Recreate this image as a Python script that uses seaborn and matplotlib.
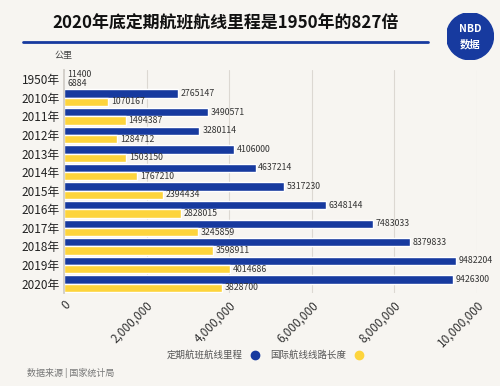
import pandas as pd
import matplotlib.pyplot as plt
import seaborn as sns
from matplotlib.lines import Line2D
from matplotlib.patches import Circle

years = ["1950年", "2010年", "2011年", "2012年", "2013年", "2014年", "2015年",
         "2016年", "2017年", "2018年", "2019年", "2020年"]
scheduled = [11400, 2765147, 3490571, 3280114, 4106000, 4637214, 5317230,
             6348144, 7483033, 8379833, 9482204, 9426300]
international = [6884, 1070167, 1494387, 1284712, 1503150, 1767210, 2394434,
                 2828015, 3245859, 3598911, 4014686, 3828700]
series_names = ["定期航班航线里程", "国际航线线路长度"]
xticks = [0, 2000000, 4000000, 6000000, 8000000, 10000000]

blue = "#173a9f"
yellow = "#fdd43c"
bg = "#f7f5f1"

sns.set_theme(style="white")
plt.rcParams['font.family'] = ['Noto Sans CJK SC', 'DejaVu Sans']

df = pd.DataFrame({"year": years * 2,
                   "value": scheduled + international,
                   "series": [series_names[0]] * len(years) + [series_names[1]] * len(years)})

fig = plt.figure(figsize=(5, 3.86), dpi=100, facecolor=bg)
ax = fig.add_axes([0.128, 0.241, 0.826, 0.578], facecolor=bg)

sns.barplot(data=df, x="value", y="year", hue="series", orient="h",
            palette=[blue, yellow], saturation=1, width=0.9, ax=ax, legend=False)

for c in ax.containers:
    ax.bar_label(c, labels=[f"{int(v)}" for v in c.datavalues], padding=2,
                 fontsize=6.3, color="#333333")

ax.set_xlim(0, 10000000)
ax.set_xticks(xticks)
ax.set_xticklabels([f"{t:,}" for t in xticks], rotation=45, ha="right",
                   rotation_mode="anchor", fontsize=8.5, color="#333333")
ax.tick_params(axis="x", pad=4, length=0)
ax.tick_params(axis="y", labelsize=8.5, length=0, pad=3, colors="#222222")
ax.set_xlabel("")
ax.set_ylabel("")
ax.xaxis.grid(True, color="#dcd8d2", linewidth=0.8)
ax.set_axisbelow(True)
for s in ["top", "right", "bottom"]:
    ax.spines[s].set_visible(False)
ax.spines["left"].set_color("#cfcbc5")

# title and header
fig.text(0.104, 0.94, "2020年底定期航班航线里程是1950年的827倍", fontsize=12.2,
         fontweight="bold", color="#111111", va="center")
fig.add_artist(Line2D([0.046, 0.856], [0.89, 0.89], color=blue, linewidth=2))
fig.text(0.11, 0.857, "公里", fontsize=6.5, color="#444444", va="center")

# logo
lax = fig.add_axes([0.893, 0.845, 0.094, 0.122])
lax.set_aspect("equal")
lax.axis("off")
lax.add_patch(Circle((0.5, 0.5), 0.5, color=blue))
lax.text(0.5, 0.66, "NBD", color="white", fontsize=7.5, fontweight="bold", ha="center", va="center")
lax.text(0.5, 0.33, "数据", color="white", fontsize=7.5, fontweight="bold", ha="center", va="center")
lax.set_xlim(0, 1)
lax.set_ylim(0, 1)

# legend
handles = [Line2D([], [], marker="o", linestyle="", markersize=6, color=blue),
           Line2D([], [], marker="o", linestyle="", markersize=6, color=yellow)]
fig.legend(handles, series_names, loc="center", bbox_to_anchor=(0.535, 0.08),
           ncol=2, markerfirst=False, frameon=False, fontsize=6.8,
           handletextpad=0.3, columnspacing=0.6, labelcolor="#555555")

fig.text(0.054, 0.035, "数据来源 | 国家统计局", fontsize=6.5, color="#777777", va="center")

fig.savefig("out.png", dpi=100, facecolor=bg)
